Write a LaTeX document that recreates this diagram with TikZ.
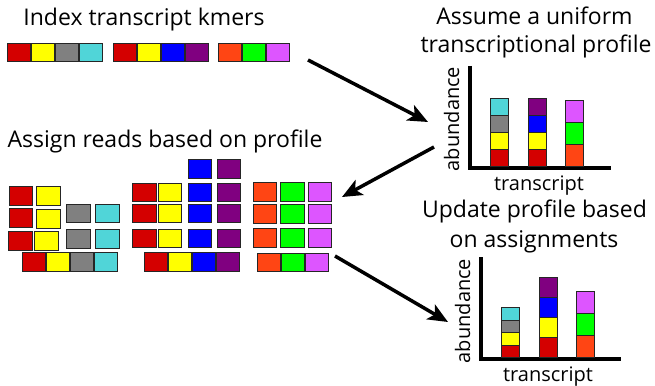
\documentclass[tikz,border=0pt]{standalone}
\usepackage{fontspec}
\setmainfont{Open Sans}
\usetikzlibrary{arrows.meta}
\definecolor{kred}{HTML}{D40000}
\definecolor{kyellow}{HTML}{FFFF00}
\definecolor{kgrey}{HTML}{808080}
\definecolor{kcyan}{HTML}{50D5D8}
\definecolor{kblue}{HTML}{0000FF}
\definecolor{kpurple}{HTML}{800080}
\definecolor{korange}{HTML}{FF4514}
\definecolor{kgreen}{HTML}{00FF00}
\definecolor{kviolet}{HTML}{DD55FF}
\tikzset{
  kmer/.style={draw=black!85, line width=1pt, minimum width=23.5pt, minimum height=18.5pt, inner sep=0pt, fill=#1},
  seg/.style={draw=black!85, line width=1pt, minimum width=18pt, inner sep=0pt, fill=#1},
  axis/.style={line width=3.5pt},
  arrow/.style={-{Stealth[length=20pt,width=17pt,inset=5pt]}, line width=3.5pt},
  txt/.style={inner sep=0pt, font=\fontsize{23}{27}\selectfont},
  axislabel/.style={inner sep=0pt, font=\fontsize{20}{24}\selectfont}
}

\begin{document}
\begin{tikzpicture}[x=1pt,y=-1pt]
  \useasboundingbox (0,0) rectangle (655,385);

  % index of transcript kmers
  \node[txt, anchor=base] (ttlindex) at (144,26) {Index transcript kmers};
  \foreach \c/\x [count=\i] in {kred/19,kyellow/43,kgrey/67,kcyan/91,
                                kred/125,kyellow/149,kblue/173,kpurple/197,
                                korange/230,kgreen/254,kviolet/278}
    \node[kmer=\c] (idx\i) at (\x,52.5) {};

  % reads assigned to the transcripts
  \node[txt, anchor=base] (ttlassign) at (165,147) {Assign reads based on profile};
  \foreach \c/\x/\y [count=\i] in {kred/21/196,kred/21/218,kred/20.5/241,
      kyellow/48.5/196,kyellow/48.5/219,kyellow/46.5/241,
      kgrey/78.5/213.5,kgrey/78.5/239,kcyan/107.5/213.5,kcyan/107.5/239,
      kred/34/262,kyellow/58/262,kgrey/82/262,kcyan/106/262}
    \node[kmer=\c] (ra\i) at (\x,\y) {};
  \foreach \c/\x/\y [count=\i] in {kblue/200/169,kpurple/229/169,
      kred/144.5/192.5,kyellow/170/192.5,kblue/200/192.5,kpurple/229/192.5,
      kred/144.5/213.5,kyellow/170/213.5,kblue/200/213.5,kpurple/229/213.5,
      kred/144.5/238.5,kyellow/170/238.5,kblue/200/238.5,kpurple/229/238.5,
      kred/156/262,kyellow/180/262,kblue/204/262,kpurple/228/262}
    \node[kmer=\c] (rb\i) at (\x,\y) {};
  \foreach \c/\x/\y [count=\i] in {korange/265/192,kgreen/292.5/192,kviolet/320/192,
      korange/265/214,kgreen/292.5/214,kviolet/320/214,
      korange/265/238,kgreen/292.5/238,kviolet/320/238,
      korange/269/262.5,kgreen/293/262.5,kviolet/317/262.5}
    \node[kmer=\c] (rc\i) at (\x,\y) {};

  % uniform profile
  \node[txt, anchor=base] (ttlassume) at (534.5,25) {Assume a uniform};
  \node[txt, anchor=base] (ttlprofile) at (536,53) {transcriptional profile};
  \coordinate (utop) at (470,66);
  \coordinate (uorig) at (470,168);
  \coordinate (uend) at (611,168);
  \draw[axis] (utop) -- (uorig) -- (uend);
  \node[axislabel, rotate=90, anchor=base] (uy) at (459,119) {abundance};
  \node[axislabel, anchor=base] (ux) at (539,190) {transcript};
  \foreach \x/\h/\cols [count=\b] in {499/17/{kred,kyellow,kgrey,kcyan},
                                     537/17/{kred,kyellow,kblue,kpurple},
                                     574.5/22/{korange,kgreen,kviolet}}
    \foreach \c [count=\k] in \cols
      \node[seg=\c, minimum height=\h pt, anchor=south] (u\b-\k) at (\x,167-\h*\k+\h) {};

  % updated profile
  \node[txt, anchor=base] (ttlupdate) at (534.5,217) {Update profile based};
  \node[txt, anchor=base] (ttlon) at (534,247) {on assignments};
  \coordinate (ptop) at (481,257);
  \coordinate (porig) at (481,359);
  \coordinate (pend) at (621,359);
  \draw[axis] (ptop) -- (porig) -- (pend);
  \node[axislabel, rotate=90, anchor=base] (py) at (470,311) {abundance};
  \node[axislabel, anchor=base] (px) at (548,381) {transcript};
  \foreach \x/\h/\cols [count=\b] in {510/12.5/{kred,kyellow,kgrey,kcyan},
                                     548/20/{kred,kyellow,kblue,kpurple},
                                     585.5/22/{korange,kgreen,kviolet}}
    \foreach \c [count=\k] in \cols
      \node[seg=\c, minimum height=\h pt, anchor=south] (p\b-\k) at (\x,358-\h*\k+\h) {};

  % EM steps
  \coordinate (s1) at (308,60);
  \coordinate (e1) at (428,122);
  \coordinate (s2) at (434,147);
  \coordinate (e2) at (342,197);
  \coordinate (s3) at (335,256);
  \coordinate (e3) at (448,322);
  \draw[arrow] (s1) -- (e1);
  \draw[arrow] (s2) -- (e2);
  \draw[arrow] (s3) -- (e3);
\end{tikzpicture}
\end{document}
